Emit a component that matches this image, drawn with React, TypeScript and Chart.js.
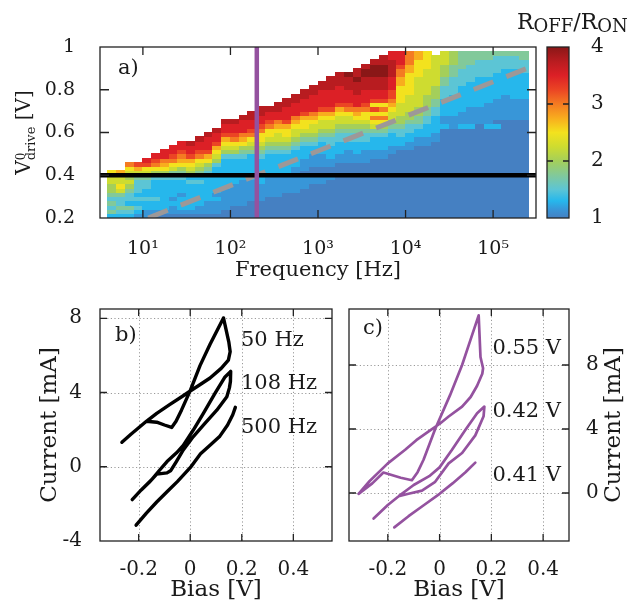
import React, { useEffect, useRef } from 'react';
import { Chart, registerables } from 'chart.js';

Chart.register(...registerables);

const FONT = '"DejaVu Serif", "Liberation Serif", serif';
const INK = '#1a1a1a';
const PURPLE = '#94529f';

// ================= Panel a : heat map =================
const freqAxisMin = 3.236; // Hz (left edge)
const freqAxisMax = 309000; // Hz (right edge)
const voltAxisMin = 0.2;
const voltAxisMax = 1.0;
const freqTicks = [10, 100, 1000, 10000, 100000];
const freqTickLabels = ['10¹', '10²', '10³', '10⁴', '10⁵'];
const voltTicks = [0.2, 0.4, 0.6, 0.8, 1.0];
const voltTickLabels = ['0.2', '0.4', '0.6', '0.8', '1'];
const ratioMin = 1;
const ratioMax = 4;
const ratioTicks = [1, 2, 3, 4];
const ratioTickLabels = ['1', '2', '3', '4'];

// cell grid: column c spans log10(f) = 0.6 + 0.1c .. +0.1, row r spans V = 0.2 + 0.02r .. +0.02
const heatLogFreqStart = 0.6;
const heatLogFreqStep = 0.1;
const heatVoltStart = 0.2;
const heatVoltStep = 0.02;
// R_OFF/R_ON level codes
const heatLevelCodes = 'abcdefghijklmn';
const heatLevelValues = [1.0, 1.15, 1.3, 1.5, 1.75, 2.0, 2.25, 2.5, 2.75, 3.0, 3.25, 3.5, 3.75, 4.0];
// one string per frequency column, bottom row first (string length = top of measured range)
const heatColumns = [
  'cededeffggh',
  'cdeddeghggi',
  'cdecddefgfghj',
  'bcdcdcdddegik',
  'bbccdccddeghkl',
  'abccdccccdfhjkl',
  'abcccccccdfhijll',
  'abbcbccccdeghjkll',
  'abcccbcccdefhijkll',
  'abccccccdcfghikllm',
  'abbcccccdcefghjkllm',
  'abbbccccccdefhiklllm',
  'abbbcbccccccdfghikllm',
  'aabbbbbcccccccdfghikllm',
  'aaabbbbbccccccdfghjkllm',
  'aaabbbbbbcccccdefhijlllm',
  'aaaabbbbbccccccefghjkllmm',
  'aaaabbbbccccccdefghhjkllmm',
  'aaaaabbbbbcccccdefghhjkllm',
  'aaaaabbbbbcccccdefgghijllmm',
  'aaaaaabbbbcccccdefghhiklllmm',
  'aaaaaabbbbbbccccdefgghijlllmm',
  'aaaaaaabbbabbbcccdefghhiklllmm',
  'aaaaaaaabbaabbbccdefgghijllllmm',
  'aaaaaaaabbaabbbcccdefgghikllllmm',
  'aaaaaaaaabaabbcccddefgghikllllmmm',
  'aaaaaaaaaaaaabbcccddefgghikllllmmm',
  'aaaaaaaaaaaaabbbccddefgghjklllmmmn',
  'aaaaaaaaaaaaabbcccddefghijlllmmmnmm',
  'aaaaaaaaaaaaabbbccddefghhjklllmmmnnm',
  'aaaaaaaaaaaaaabbcccdeghjhkhkllmmmnnnm',
  'aaaaaaaaaaaaaabbcccdefhjhjhkllmmmnnnmm',
  'aaaaaaaaaaaaaaabbcccdefgghijkklllmmmmll',
  'aaaaaaaaaaaaaaaabccddeffggghhhhiijjklll',
  'aaaaaaaaaaaaaaaabbccddeffgggghhhhhiijjj',
  'aaaaaaaaaaaaaaaaabbccdeeffggggggghhhhii',
  'aaaaaaaaaaaaaaaaabbcccddeefffgggggghhhh',
  'aaaaaaaaaaaaaaaaaabbccccddeefffggggggg',
  'aaaaaaaaaaaaaaaaaaaaacbbccccdddeefffggg',
  'aaaaaaaaaaaaaaaaaaaaabbbcccccddddeeefff',
  'aaaaaaaaaaaaaaaaaaaaacbbbccccccddddeeee',
  'aaaaaaaaaaaaaaaaaaaaacbbbbccccccddddeee',
  'aaaaaaaaaaaaaaaaaaaaaabbbbcccccccddddee',
  'aaaaaaaaaaaaaaaaaaaaacbbbbbccccccddddee',
  'aaaaaaaaaaaaaaaaaaaaacabbbbbccccccdddde',
  'aaaaaaaaaaaaaaaaaaaaaaabbbbbbccccccddde',
  'aaaaaaaaaaaaaaaaaaaaaaabbbbbcccccccddde',
  'aaaaaaaaaaaaaaaaaaaaaaabbbbbccccccdddee',
];
const markerFreqHz = 200;
const thresholdVolt = 0.4;
const guideFreqHz = [11.5, 245000];
const guideVolt = [0.2, 0.9];

const ratioColorStops = [1.0, 1.15, 1.3, 1.5, 1.75, 2.0, 2.25, 2.5, 2.75, 3.0, 3.25, 3.5, 3.75, 4.0];
const ratioColorHex = ['#4580c2', '#3896d8', '#26b7ec', '#5cc5d5', '#82c99a', '#a4cf5a', '#cedc30', '#f3e21e', '#f8ad1e', '#f47b22', '#eb4524', '#dc2026', '#b81c20', '#8a1717'];

// ================= Panel b : loops vs frequency =================
const biasAxisMinB = -0.35;
const biasAxisMaxB = 0.55;
const currentAxisMinB = -4;
const currentAxisMaxB = 8.5;
const biasTicks = [-0.2, 0, 0.2, 0.4];
const biasTickLabels = ['-0.2', '0', '0.2', '0.4'];
const currentTicksB = [-4, 0, 4, 8];
const currentTickLabelsB = ['-4', '0', '4', '8'];

const bias50Hz = [-0.265, -0.23, -0.2, -0.17, -0.13, -0.08, -0.03, 0.0, 0.03, 0.077, 0.12, 0.148, 0.155, 0.15, 0.129, 0.077, 0.038, 0.0, -0.034, -0.055, -0.072, -0.1, -0.13, -0.17, -0.2, -0.23, -0.265];
const current50Hz = [1.32, 1.75, 2.1, 2.45, 2.88, 3.35, 3.8, 4.08, 4.35, 4.78, 5.3, 5.75, 6.2, 6.7, 8.02, 6.6, 5.45, 4.1, 3.05, 2.45, 2.12, 2.25, 2.4, 2.45, 2.1, 1.75, 1.32];
const bias108Hz = [-0.225, -0.19, -0.15, -0.12, -0.09, -0.053, -0.027, 0.012, 0.051, 0.096, 0.135, 0.157, 0.156, 0.152, 0.142, 0.103, 0.057, 0.012, -0.027, -0.055, -0.075, -0.09, -0.13, -0.16, -0.19, -0.225];
const current108Hz = [-1.77, -1.25, -0.7, -0.2, 0.28, 0.75, 1.15, 1.98, 2.88, 3.95, 4.84, 5.14, 4.6, 4.25, 3.77, 3.05, 2.34, 1.63, 0.91, 0.25, -0.2, -0.33, -0.4, -0.85, -1.25, -1.77];
const bias500Hz = [-0.21, -0.17, -0.13, -0.09, -0.05, 0.0, 0.04, 0.08, 0.115, 0.145, 0.165, 0.175];
const current500Hz = [-3.15, -2.5, -1.9, -1.35, -0.8, -0.05, 0.7, 1.2, 1.65, 2.25, 2.8, 3.2];
const labelsB = ['50 Hz', '108 Hz', '500 Hz'];
const labelBiasB = [0.197, 0.197, 0.197];
const labelCurrentB = [6.8, 4.5, 2.09];

// ================= Panel c : loops vs drive amplitude =================
const biasAxisMinC = -0.35;
const biasAxisMaxC = 0.5;
const currentAxisMinC = -3;
const currentAxisMaxC = 11.5;
const currentTicksC = [0, 4, 8];
const currentTickLabelsC = ['0', '4', '8'];

const bias055V = [-0.313, -0.27, -0.2, -0.133, -0.09, -0.042, 0.003, 0.035, 0.087, 0.12, 0.145, 0.165, 0.168, 0.158, 0.151, 0.12, 0.087, 0.04, -0.017, -0.062, -0.085, -0.107, -0.15, -0.217, -0.26, -0.313];
const current055V = [-0.05, 0.75, 1.85, 2.7, 3.3, 3.85, 4.36, 4.78, 5.4, 6.0, 6.7, 7.45, 7.8, 8.5, 11.1, 9.6, 8.0, 6.1, 4.0, 2.08, 1.3, 0.8, 0.95, 1.28, 0.6, -0.05];
const bias042V = [-0.255, -0.2, -0.158, -0.1, -0.04, 0.0, 0.048, 0.1, 0.145, 0.173, 0.17, 0.138, 0.087, 0.035, -0.017, -0.068, -0.12, -0.158];
const current042V = [-1.6, -0.75, -0.2, 0.5, 1.05, 1.6, 2.7, 3.95, 4.99, 5.4, 4.8, 3.6, 2.5, 1.85, 0.7, 0.15, -0.05, -0.2];
const bias041V = [-0.175, -0.12, -0.06, 0.0, 0.05, 0.1, 0.138];
const current041V = [-2.15, -1.45, -0.75, -0.05, 0.6, 1.3, 1.9];
const labelsC = ['0.55 V', '0.42 V', '0.41 V'];
const labelBiasC = [0.204, 0.204, 0.204];
const labelCurrentC = [9.0, 5.1, 1.08];

// ================= helpers =================
function hexToRgb(h: string): number[] {
  const n = parseInt(h.slice(1), 16);
  return [(n >> 16) & 255, (n >> 8) & 255, n & 255];
}
function ratioColor(v: number): string {
  if (v <= ratioColorStops[0]) return ratioColorHex[0];
  for (let i = 1; i < ratioColorStops.length; i++) {
    if (v <= ratioColorStops[i]) {
      const t = (v - ratioColorStops[i - 1]) / (ratioColorStops[i] - ratioColorStops[i - 1]);
      const a = hexToRgb(ratioColorHex[i - 1]);
      const b = hexToRgb(ratioColorHex[i]);
      const c = a.map((x, k) => Math.round(x + (b[k] - x) * t));
      return `rgb(${c[0]},${c[1]},${c[2]})`;
    }
  }
  return ratioColorHex[ratioColorHex.length - 1];
}

type Part = { t: string; size: number; dy?: number; keep?: boolean };
function drawRich(ctx: CanvasRenderingContext2D, parts: Part[], x: number, y: number, rot: number, align: 'left' | 'center') {
  ctx.save();
  ctx.translate(x, y);
  ctx.rotate(rot);
  ctx.textBaseline = 'alphabetic';
  ctx.textAlign = 'left';
  ctx.fillStyle = INK;
  const widths = parts.map((p) => {
    ctx.font = `${p.size}px ${FONT}`;
    return ctx.measureText(p.t).width;
  });
  const starts: number[] = [];
  let cur = 0;
  let maxEnd = 0;
  parts.forEach((p, i) => {
    starts.push(cur);
    maxEnd = Math.max(maxEnd, cur + widths[i]);
    if (!p.keep) cur += widths[i];
  });
  const total = Math.max(cur, maxEnd);
  const s0 = align === 'center' ? -total / 2 : 0;
  parts.forEach((p, i) => {
    ctx.font = `${p.size}px ${FONT}`;
    ctx.fillText(p.t, s0 + starts[i], p.dy || 0);
  });
  ctx.restore();
}

function drawText(ctx: CanvasRenderingContext2D, t: string, x: number, y: number, size: number) {
  ctx.save();
  ctx.font = `${size}px ${FONT}`;
  ctx.fillStyle = INK;
  ctx.textAlign = 'left';
  ctx.textBaseline = 'middle';
  ctx.fillText(t, x, y);
  ctx.restore();
}

const tickFont = (size: number) => ({ family: FONT, size });

// fix the box size of an axis and drop the automatic label-overflow padding
const fixWidth = (w: number) => (s: any) => {
  s.width = w;
  s.paddingTop = 0;
  s.paddingBottom = 0;
  s.paddingLeft = 0;
  s.paddingRight = 0;
};
const fixHeight = (h: number) => (s: any) => {
  s.height = h;
  s.paddingTop = 0;
  s.paddingBottom = 0;
  s.paddingLeft = 0;
  s.paddingRight = 0;
};

// ================= Panel a chart =================
const panelAPlugin = {
  id: 'panelA',
  beforeDatasetsDraw(chart: any) {
    const { ctx, chartArea: a, scales } = chart;
    const xs = scales.x;
    const ys = scales.y;
    ctx.save();
    ctx.beginPath();
    ctx.rect(a.left, a.top, a.right - a.left, a.bottom - a.top);
    ctx.clip();
    heatColumns.forEach((col: string, c: number) => {
      const l0 = heatLogFreqStart + c * heatLogFreqStep;
      const x0 = xs.getPixelForValue(Math.pow(10, l0));
      const x1 = xs.getPixelForValue(Math.pow(10, l0 + heatLogFreqStep));
      for (let r = 0; r < col.length; r++) {
        const v = heatLevelValues[heatLevelCodes.indexOf(col[r])];
        const yb = ys.getPixelForValue(heatVoltStart + r * heatVoltStep);
        const yt = ys.getPixelForValue(heatVoltStart + (r + 1) * heatVoltStep);
        ctx.fillStyle = ratioColor(v);
        const L = Math.floor(x0);
        const T = Math.floor(yt);
        ctx.fillRect(L, T, Math.ceil(x1) - L, Math.ceil(yb) - T);
      }
    });
    ctx.restore();
  },
  afterDatasetsDraw(chart: any) {
    const { ctx, chartArea: a, scales } = chart;
    ctx.save();
    ctx.strokeStyle = '#222';
    ctx.lineWidth = 1.3;
    ctx.strokeRect(a.left, a.top, a.right - a.left, a.bottom - a.top);
    ctx.beginPath();
    freqTicks.forEach((f) => {
      const x = scales.x.getPixelForValue(f);
      ctx.moveTo(x, a.top);
      ctx.lineTo(x, a.top + 8);
      ctx.moveTo(x, a.bottom);
      ctx.lineTo(x, a.bottom - 8);
    });
    voltTicks.slice(1, -1).forEach((v) => {
      const y = scales.y.getPixelForValue(v);
      ctx.moveTo(a.left, y);
      ctx.lineTo(a.left + 9, y);
      ctx.moveTo(a.right, y);
      ctx.lineTo(a.right - 9, y);
    });
    ctx.stroke();

    // colour bar
    const cb = scales.cb;
    const yTop = cb.getPixelForValue(ratioMax);
    const yBot = cb.getPixelForValue(ratioMin);
    const bx = a.right + 11;
    const bw = 22;
    const grad = ctx.createLinearGradient(0, yBot, 0, yTop);
    ratioColorStops.forEach((s, i) => grad.addColorStop((s - ratioMin) / (ratioMax - ratioMin), ratioColorHex[i]));
    ctx.fillStyle = grad;
    ctx.fillRect(bx, yTop, bw, yBot - yTop);
    ctx.strokeRect(bx, yTop, bw, yBot - yTop);
    ctx.beginPath();
    ratioTicks.slice(1, -1).forEach((r) => {
      const y = cb.getPixelForValue(r);
      ctx.moveTo(bx, y);
      ctx.lineTo(bx + 6, y);
      ctx.moveTo(bx + bw, y);
      ctx.lineTo(bx + bw - 6, y);
    });
    ctx.stroke();
    ctx.restore();

    drawText(ctx, 'a)', a.left + 18, a.top + 22, 21);
    drawRich(
      ctx,
      [
        { t: 'V', size: 20 },
        { t: '0', size: 12, dy: -5, keep: true },
        { t: 'drive', size: 13, dy: 5 },
        { t: ' [V]', size: 20 },
      ],
      30,
      (a.top + a.bottom) / 2,
      -Math.PI / 2,
      'center'
    );
    drawRich(
      ctx,
      [
        { t: 'R', size: 22 },
        { t: 'OFF', size: 18, dy: 3 },
        { t: '/', size: 22 },
        { t: 'R', size: 22 },
        { t: 'ON', size: 18, dy: 3 },
      ],
      517,
      29,
      0,
      'left'
    );
  },
};

function buildPanelA(canvas: HTMLCanvasElement) {
  return new Chart(canvas, {
    type: 'scatter',
    data: {
      datasets: [
        {
          data: [
            { x: markerFreqHz, y: voltAxisMin },
            { x: markerFreqHz, y: voltAxisMax },
          ],
          showLine: true,
          borderColor: PURPLE,
          borderWidth: 4.5,
          pointRadius: 0,
        },
        {
          data: [
            { x: freqAxisMin, y: thresholdVolt },
            { x: freqAxisMax, y: thresholdVolt },
          ],
          showLine: true,
          borderColor: '#000',
          borderWidth: 4.5,
          pointRadius: 0,
        },
        {
          data: guideFreqHz.map((f, i) => ({ x: f, y: guideVolt[i] })),
          showLine: true,
          borderColor: '#9d9898',
          borderWidth: 5,
          borderDash: [21, 14],
          pointRadius: 0,
        },
      ],
    },
    options: {
      animation: false,
      responsive: false,
      devicePixelRatio: 1,
      events: [],
      layout: { padding: { top: 47, left: 0, right: 0, bottom: 0 } },
      plugins: { legend: { display: false }, tooltip: { enabled: false } },
      scales: {
        x: {
          type: 'logarithmic',
          position: 'bottom',
          min: freqAxisMin,
          max: freqAxisMax,
          grid: { display: false },
          border: { display: false },
          afterBuildTicks: (s: any) => {
            s.ticks = freqTicks.map((v) => ({ value: v }));
          },
          ticks: {
            callback: (_v: any, i: number) => freqTickLabels[i],
            font: tickFont(19),
            color: INK,
            padding: 12,
            maxRotation: 0,
            autoSkip: false,
          },
          title: { display: true, text: 'Frequency [Hz]', font: tickFont(21), color: INK, padding: { top: 0, bottom: 7 } },
          afterFit: fixHeight(72),
        },
        y: {
          type: 'linear',
          position: 'left',
          min: voltAxisMin,
          max: voltAxisMax,
          grid: { display: false },
          border: { display: false },
          afterBuildTicks: (s: any) => {
            s.ticks = voltTicks.map((v) => ({ value: v }));
          },
          ticks: { callback: (_v: any, i: number) => voltTickLabels[i], font: tickFont(19), color: INK, padding: 17, autoSkip: false },
          afterFit: fixWidth(100),
        },
        cb: {
          type: 'linear',
          position: 'right',
          min: ratioMin,
          max: ratioMax,
          grid: { display: false },
          border: { display: false },
          afterBuildTicks: (s: any) => {
            s.ticks = ratioTicks.map((v) => ({ value: v }));
          },
          ticks: { callback: (_v: any, i: number) => ratioTickLabels[i], font: tickFont(20), color: INK, padding: 47, autoSkip: false },
          afterFit: fixWidth(104),
        },
      },
    } as any,
    plugins: [panelAPlugin],
  });
}

// ================= Panels b and c =================
type LoopCfg = {
  xTicks: number[];
  yTicks: number[];
  tag: string;
  tagDx: number;
  tagDy: number;
  labels: string[];
  labelX: number[];
  labelY: number[];
  rightTitle?: string;
};

function makeLoopPlugin(cfg: LoopCfg) {
  return {
    id: 'loopFrame',
    beforeDatasetsDraw(chart: any) {
      const { ctx, chartArea: a, scales } = chart;
      ctx.save();
      ctx.strokeStyle = '#9a9a9a';
      ctx.lineWidth = 1;
      ctx.setLineDash([1.2, 2.4]);
      ctx.beginPath();
      cfg.xTicks.forEach((v) => {
        const x = Math.round(scales.x.getPixelForValue(v)) + 0.5;
        ctx.moveTo(x, a.top);
        ctx.lineTo(x, a.bottom);
      });
      cfg.yTicks.forEach((v) => {
        const y = Math.round(scales.y.getPixelForValue(v)) + 0.5;
        if (y > a.top + 1 && y < a.bottom - 1) {
          ctx.moveTo(a.left, y);
          ctx.lineTo(a.right, y);
        }
      });
      ctx.stroke();
      ctx.restore();
    },
    afterDatasetsDraw(chart: any) {
      const { ctx, chartArea: a, scales } = chart;
      ctx.save();
      ctx.strokeStyle = '#222';
      ctx.lineWidth = 1.3;
      ctx.strokeRect(a.left, a.top, a.right - a.left, a.bottom - a.top);
      ctx.beginPath();
      cfg.xTicks.forEach((v) => {
        const x = scales.x.getPixelForValue(v);
        ctx.moveTo(x, a.top);
        ctx.lineTo(x, a.top + 7);
        ctx.moveTo(x, a.bottom);
        ctx.lineTo(x, a.bottom - 7);
      });
      cfg.yTicks.forEach((v) => {
        const y = scales.y.getPixelForValue(v);
        if (y > a.top + 1 && y < a.bottom - 1) {
          ctx.moveTo(a.left, y);
          ctx.lineTo(a.left + 7, y);
          ctx.moveTo(a.right, y);
          ctx.lineTo(a.right - 7, y);
        }
      });
      ctx.stroke();
      ctx.restore();
      drawText(ctx, cfg.tag, a.left + cfg.tagDx, a.top + cfg.tagDy, 21);
      cfg.labels.forEach((t, i) => {
        drawText(ctx, t, scales.x.getPixelForValue(cfg.labelX[i]), scales.y.getPixelForValue(cfg.labelY[i]), 21);
      });
      if (cfg.rightTitle) {
        drawRich(ctx, [{ t: cfg.rightTitle, size: 23 }], a.right + 51, (a.top + a.bottom) / 2, -Math.PI / 2, 'center');
      }
    },
  };
}

function loopDataset(bias: number[], current: number[], color: string, width: number) {
  return {
    data: bias.map((b, i) => ({ x: b, y: current[i] })),
    showLine: true,
    borderColor: color,
    borderWidth: width,
    borderJoinStyle: 'round',
    borderCapStyle: 'round',
    pointRadius: 0,
    tension: 0,
  };
}

function buildPanelB(canvas: HTMLCanvasElement) {
  return new Chart(canvas, {
    type: 'scatter',
    data: {
      datasets: [
        loopDataset(bias50Hz, current50Hz, '#000', 3.4),
        loopDataset(bias108Hz, current108Hz, '#000', 3.4),
        loopDataset(bias500Hz, current500Hz, '#000', 3.4),
      ],
    },
    options: {
      animation: false,
      responsive: false,
      devicePixelRatio: 1,
      events: [],
      layout: { padding: { top: 19, left: 0, right: 8, bottom: 0 } },
      plugins: { legend: { display: false }, tooltip: { enabled: false } },
      scales: {
        x: {
          type: 'linear',
          min: biasAxisMinB,
          max: biasAxisMaxB,
          grid: { display: false },
          border: { display: false },
          afterBuildTicks: (s: any) => {
            s.ticks = biasTicks.map((v) => ({ value: v }));
          },
          ticks: { callback: (_v: any, i: number) => biasTickLabels[i], font: tickFont(20), color: INK, padding: 9, maxRotation: 0, autoSkip: false },
          title: { display: true, text: 'Bias [V]', font: tickFont(23), color: INK, padding: { top: 0, bottom: 0 } },
          afterFit: fixHeight(63),
        },
        y: {
          type: 'linear',
          position: 'left',
          min: currentAxisMinB,
          max: currentAxisMaxB,
          grid: { display: false },
          border: { display: false },
          afterBuildTicks: (s: any) => {
            s.ticks = currentTicksB.map((v) => ({ value: v }));
          },
          ticks: { callback: (_v: any, i: number) => currentTickLabelsB[i], font: tickFont(20), color: INK, padding: 10, autoSkip: false },
          title: { display: true, text: 'Current [mA]', font: tickFont(23), color: INK, padding: { top: 36, bottom: 0 } },
          afterFit: fixWidth(100),
        },
      },
    } as any,
    plugins: [
      makeLoopPlugin({
        xTicks: biasTicks,
        yTicks: currentTicksB,
        tag: 'b)',
        tagDx: 15,
        tagDy: 27,
        labels: labelsB,
        labelX: labelBiasB,
        labelY: labelCurrentB,
      }),
    ],
  });
}

function buildPanelC(canvas: HTMLCanvasElement) {
  return new Chart(canvas, {
    type: 'scatter',
    data: {
      datasets: [
        loopDataset(bias055V, current055V, PURPLE, 2.7),
        loopDataset(bias042V, current042V, PURPLE, 2.7),
        loopDataset(bias041V, current041V, PURPLE, 2.7),
      ],
    },
    options: {
      animation: false,
      responsive: false,
      devicePixelRatio: 1,
      events: [],
      layout: { padding: { top: 19, left: 9, right: 0, bottom: 0 } },
      plugins: { legend: { display: false }, tooltip: { enabled: false } },
      scales: {
        x: {
          type: 'linear',
          min: biasAxisMinC,
          max: biasAxisMaxC,
          grid: { display: false },
          border: { display: false },
          afterBuildTicks: (s: any) => {
            s.ticks = biasTicks.map((v) => ({ value: v }));
          },
          ticks: { callback: (_v: any, i: number) => biasTickLabels[i], font: tickFont(20), color: INK, padding: 9, maxRotation: 0, autoSkip: false },
          title: { display: true, text: 'Bias [V]', font: tickFont(23), color: INK, padding: { top: 0, bottom: 0 } },
          afterFit: fixHeight(63),
        },
        y: {
          type: 'linear',
          position: 'right',
          min: currentAxisMinC,
          max: currentAxisMaxC,
          grid: { display: false },
          border: { display: false },
          afterBuildTicks: (s: any) => {
            s.ticks = currentTicksC.map((v) => ({ value: v }));
          },
          ticks: { callback: (_v: any, i: number) => currentTickLabelsC[i], font: tickFont(20), color: INK, padding: 9, autoSkip: false },
          afterFit: fixWidth(71),
        },
      },
    } as any,
    plugins: [
      makeLoopPlugin({
        xTicks: biasTicks,
        yTicks: currentTicksC,
        tag: 'c)',
        tagDx: 14,
        tagDy: 20,
        labels: labelsC,
        labelX: labelBiasC,
        labelY: labelCurrentC,
        rightTitle: 'Current [mA]',
      }),
    ],
  });
}

export default function App() {
  const aRef = useRef<HTMLCanvasElement>(null);
  const bRef = useRef<HTMLCanvasElement>(null);
  const cRef = useRef<HTMLCanvasElement>(null);
  useEffect(() => {
    const charts = [buildPanelA(aRef.current!), buildPanelB(bRef.current!), buildPanelC(cRef.current!)];
    return () => charts.forEach((c) => c.destroy());
  }, []);
  return (
    <div style={{ position: 'absolute', left: 0, top: 0, width: 640, height: 604, background: '#fff', overflow: 'hidden' }}>
      <canvas ref={aRef} width={640} height={290} style={{ position: 'absolute', left: 0, top: 0, width: 640, height: 290 }} />
      <canvas ref={bRef} width={340} height={314} style={{ position: 'absolute', left: 0, top: 290, width: 340, height: 314 }} />
      <canvas ref={cRef} width={300} height={314} style={{ position: 'absolute', left: 340, top: 290, width: 300, height: 314 }} />
    </div>
  );
}
